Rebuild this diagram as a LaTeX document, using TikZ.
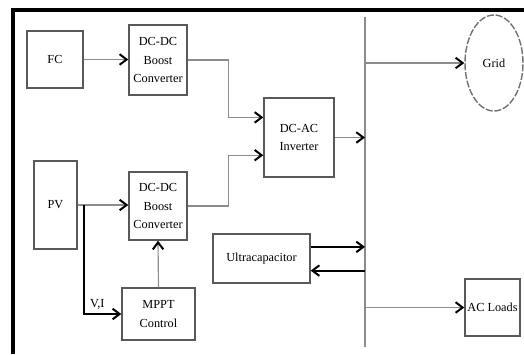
\documentclass[tikz,border=0pt]{standalone}
\usepackage{fontspec}
\setmainfont{Liberation Serif}
\usetikzlibrary{arrows.meta,calc,shapes.geometric}

\begin{document}
\begin{tikzpicture}[x=0.03cm, y=-0.03cm,
  font=\fontsize{10.5}{15.5}\selectfont,
  blk/.style={draw=black!65, line width=1.2pt, inner sep=0pt, align=center},
  flow/.style={draw=black!45, line width=1pt, -{Straight Barb[length=6pt,width=9pt,line width=1.7pt,color=black]}},
  flowbold/.style={draw=black, line width=1.8pt, -{Straight Barb[length=6pt,width=9pt,line width=1.7pt]}},
  busline/.style={draw=black!45, line width=1.5pt},
  frameline/.style={draw=black, line width=3pt}]
  \useasboundingbox (0,0) rectangle (524,354);
  \draw[frameline] (13,354) -- (13,10) -- (524,10);

  \node[blk, minimum width=1.68cm, minimum height=1.71cm] (fc) at (55,59.5) {FC};
  \node[blk, minimum width=1.74cm, minimum height=2.1cm] (boost1) at (158,60) {DC-DC\\Boost\\Converter};
  \node[blk, minimum width=1.29cm, minimum height=2.64cm] (pv) at (55.5,205) {PV};
  \node[blk, minimum width=1.74cm, minimum height=2.04cm] (boost2) at (158,206) {DC-DC\\Boost\\Converter};
  \node[blk, minimum width=2.19cm, minimum height=1.56cm] (mppt) at (158.5,314) {MPPT\\Control};
  \node[blk, minimum width=2.1cm, minimum height=2.37cm] (inv) at (299,137.5) {DC-AC\\Inverter};
  \node[blk, minimum width=2.91cm, minimum height=1.47cm] (ucap) at (261.5,258.5) {Ultracapacitor};
  \node[blk, draw=black!55, dash pattern=on 6pt off 1.5pt, ellipse, minimum width=1.74cm, minimum height=2.88cm] (grid) at (494,63) {Grid};
  \node[blk, minimum width=1.65cm, minimum height=1.71cm] (loads) at (492.5,307.5) {AC Loads};

  % AC bus
  \coordinate (bustop) at (365,17);
  \coordinate (busbot) at (365,347);
  \draw[busline] (bustop) -- (busbot);

  \draw[flow] (fc.east) -- (boost1.west |- fc.east);
  \draw[flow] (boost1.east) -- ++(41,0) |- ($(inv.north west)!.25!(inv.south west)$);
  \draw[flow] (boost2.east) -- ++(41,0) |- ($(inv.north west)!.72!(inv.south west)$);
  \draw[flow] (pv.east) -- (boost2.west |- pv.east);
  \draw[flowbold] ($(pv.east)+(6,0)$) |- (mppt.west) node[pos=0.68, above, font=\fontsize{10.5}{12}\selectfont] (vi) {V,I};
  \draw[flow] (mppt.north) -- (boost2.south);
  \draw[flow] (inv.east) -- (inv.east -| bustop);

  \coordinate (u1) at ($(ucap.north east)!.27!(ucap.south east)$);
  \coordinate (u2) at ($(ucap.north east)!.74!(ucap.south east)$);
  \draw[flowbold] (u1) -- (u1 -| bustop);
  \draw[flowbold] (u2 -| bustop) -- (u2);

  \draw[flow] (grid.west -| bustop) -- (grid.west);
  \draw[flow] (loads.west -| bustop) -- (loads.west);
\end{tikzpicture}
\end{document}
